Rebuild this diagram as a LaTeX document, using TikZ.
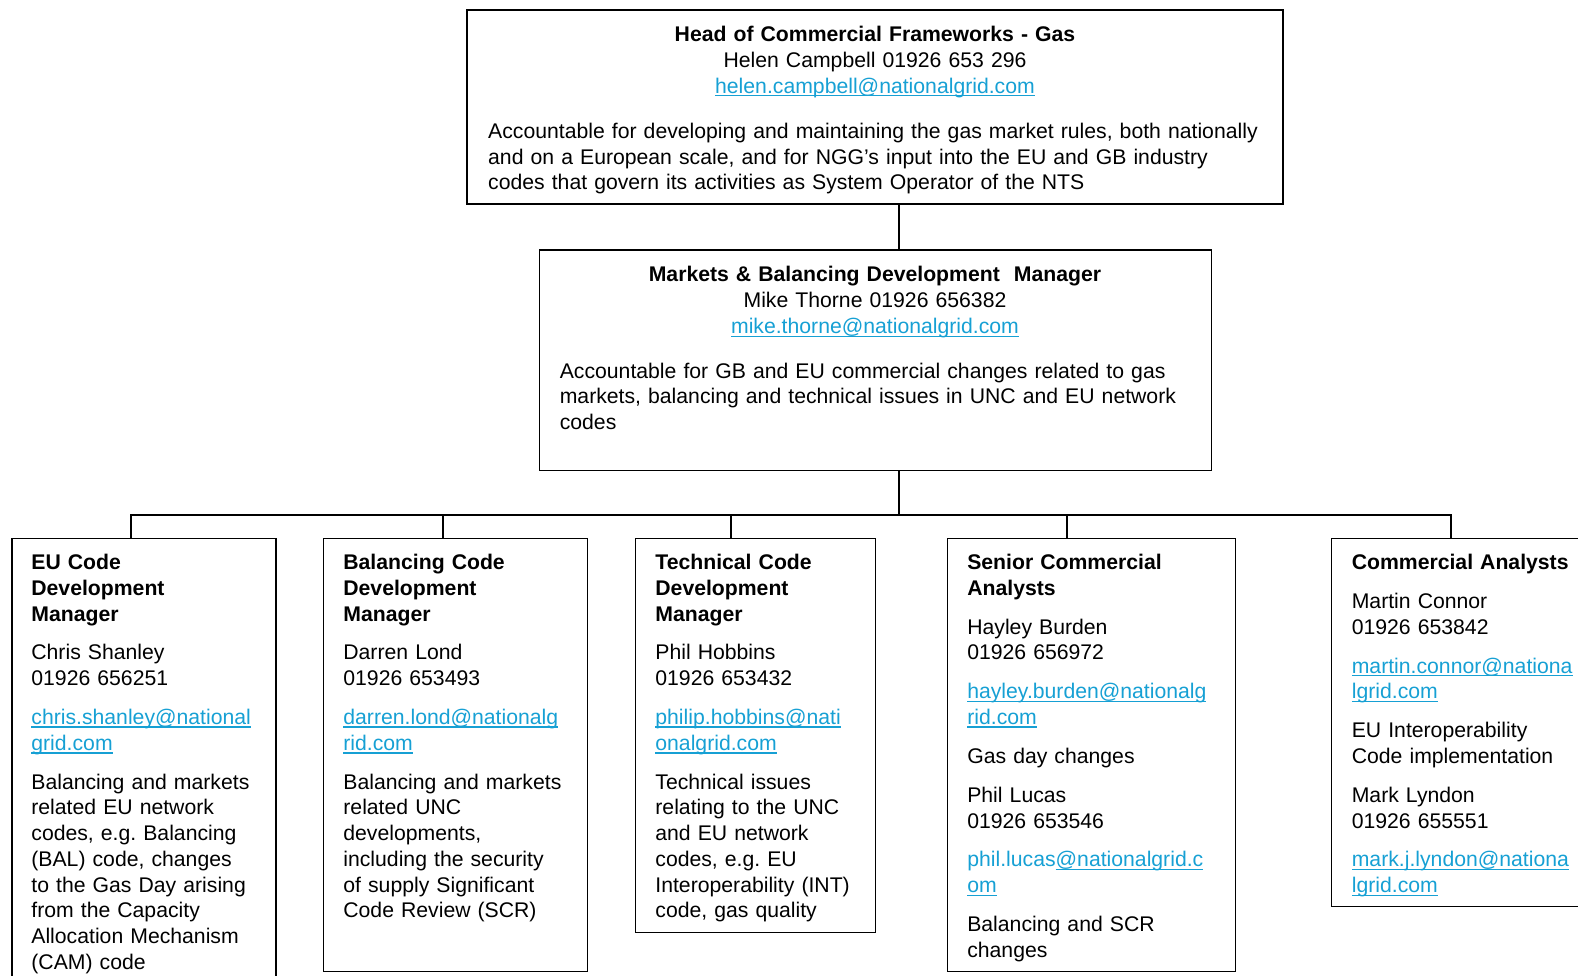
\documentclass[tikz,border=0pt]{standalone}
\usepackage{fontspec}
\setmainfont{Liberation Sans}
\frenchspacing
\definecolor{linkblue}{RGB}{22,160,212}
\newsavebox\lkbox
\newcommand{\lk}[1]{\leavevmode\sbox\lkbox{\textcolor{linkblue}{#1}}\rlap{\usebox\lkbox}\textcolor{linkblue}{\rule[-3.2pt]{\wd\lkbox}{1.3pt}}}
\newcommand{\fs}{\fontsize{21.2pt}{25.75pt}\selectfont}
\newcommand{\gp}{\\[13.1pt]}
\begin{document}
\begin{tikzpicture}[x=1pt,y=-1pt,
  box/.style={draw, line width=1.7pt, inner sep=0, anchor=north west},
  txt/.style={anchor=base west, inner sep=0, text width=330pt, align=left, font=\fs},
  hdr/.style={anchor=base, inner sep=0, text width=800pt, align=center, font=\fontsize{21.2pt}{26pt}\selectfont},
  conn/.style={line width=1.6pt}]
\useasboundingbox (0,0) rectangle (1578,976);

% boxes
\node[box, minimum width=816pt, minimum height=194pt] (top) at (466,9.5) {};
\node[box, minimum width=672pt, minimum height=220pt] (mid) at (538.5,249.5) {};
\node[box, minimum width=264pt, minimum height=470pt] (b1) at (11,537.5) {};
\node[box, minimum width=264pt, minimum height=433pt] (b2) at (322.5,537.5) {};
\node[box, minimum width=240pt, minimum height=394pt] (b3) at (634.5,537.5) {};
\node[box, minimum width=288pt, minimum height=433pt] (b4) at (946.5,537.5) {};
\node[box, minimum width=300pt, minimum height=368pt] (b5) at (1330.5,537.5) {};

% connector coordinates
\coordinate (tx) at (899,0);
\coordinate (bus) at (0,515);
\coordinate (d1) at (131,0);
\coordinate (d2) at (443,0);
\coordinate (d3) at (731,0);
\coordinate (d4) at (1067,0);
\coordinate (d5) at (1451,0);

\draw[conn] (top.south -| tx) -- (mid.north -| tx);
\draw[conn] (mid.south -| tx) -- (tx |- bus);
\draw[conn] (b1.north -| d1) -- (d1 |- bus) -- (d5 |- bus) -- (b5.north -| d5);
\draw[conn] (d2 |- bus) -- (b2.north -| d2);
\draw[conn] (d3 |- bus) -- (b3.north -| d3);
\draw[conn] (d4 |- bus) -- (b4.north -| d4);

% top box text
\node[hdr] (h0) at (875,41.2) {\textbf{Head of Commercial Frameworks - Gas}\\Helen Campbell 01926 653 296\\\lk{helen.campbell@nationalgrid.com}};
\node[txt, text width=800pt] (p0) at (488,138.5) {Accountable for developing and maintaining the gas market rules, both nationally\\and on a European scale, and for NGG’s input into the EU and GB industry\\codes that govern its activities as System Operator of the NTS};

% middle box text
\node[hdr] (h1) at (875,281.7) {\textbf{Markets \& Balancing Development\ \ Manager}\\Mike Thorne 01926 656382\\\lk{mike.thorne@nationalgrid.com}};
\node[txt, text width=640pt] (p1) at (559.6,378) {Accountable for GB and EU commercial changes related to gas\\markets, balancing and technical issues in UNC and EU network\\codes};

% lower boxes
\node[txt] (t1) at (31.2,569.6) {\textbf{EU Code}\\\textbf{Development}\\\textbf{Manager}\gp Chris Shanley\\01926 656251\gp \lk{chris.shanley@national}\\\lk{grid.com}\gp Balancing and markets\\related EU network\\codes, e.g. Balancing\\(BAL) code, changes\\to the Gas Day arising\\from the Capacity\\Allocation Mechanism\\(CAM) code};

\node[txt] (t2) at (343.2,569.6) {\textbf{Balancing Code}\\\textbf{Development}\\\textbf{Manager}\gp Darren Lond\\01926 653493\gp \lk{darren.lond@nationalg}\\\lk{rid.com}\gp Balancing and markets\\related UNC\\developments,\\including the security\\of supply Significant\\Code Review (SCR)};

\node[txt] (t3) at (655.2,569.6) {\textbf{Technical Code}\\\textbf{Development}\\\textbf{Manager}\gp Phil Hobbins\\01926 653432\gp \lk{philip.hobbins@nati}\\\lk{onalgrid.com}\gp Technical issues\\relating to the UNC\\and EU network\\codes, e.g. EU\\Interoperability (INT)\\code, gas quality};

\node[txt] (t4) at (967.1,569.6) {\textbf{Senior Commercial}\\\textbf{Analysts}\gp Hayley Burden\\01926 656972\gp \lk{hayley.burden@nationalg}\\\lk{rid.com}\gp Gas day changes\gp Phil Lucas\\01926 653546\gp \textcolor{linkblue}{phil.lucas}\lk{@nationalgrid.c}\\\lk{om}\gp Balancing and SCR\\changes};

\node[txt] (t5) at (1351.6,569.6) {\textbf{Commercial Analysts}\gp Martin Connor\\01926 653842\gp \lk{martin.connor@nationa}\\\lk{lgrid.com}\gp EU Interoperability\\Code implementation\gp Mark Lyndon\\01926 655551\gp \lk{mark.j.lyndon@nationa}\\\lk{lgrid.com}};
\end{tikzpicture}
\end{document}
